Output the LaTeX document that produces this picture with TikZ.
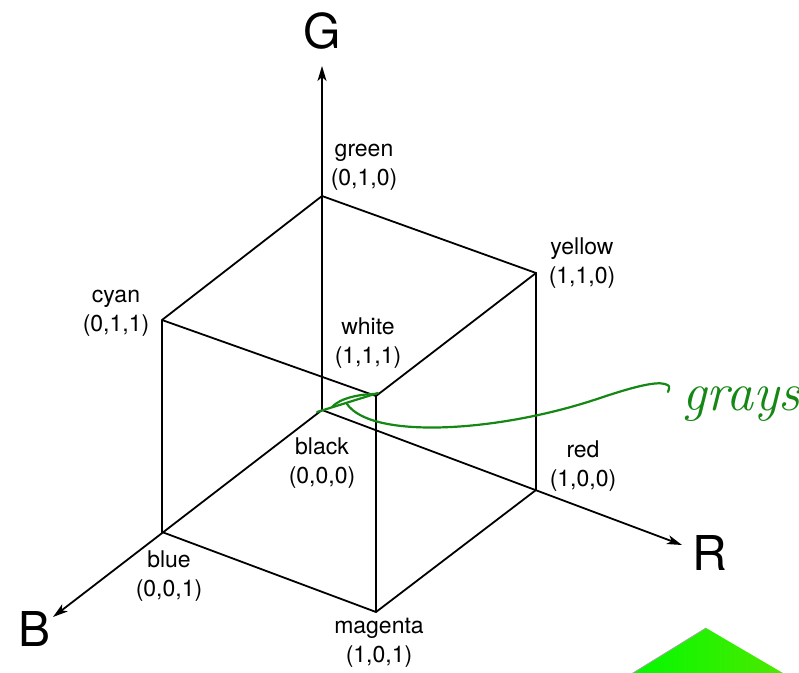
\documentclass[tikz,border=0pt]{standalone}
\usepackage{fontspec}
\setsansfont{TeX Gyre Heros}
\usetikzlibrary{arrows.meta}

\definecolor{penGreen}{RGB}{20,135,20}
\definecolor{cornerLeft}{RGB}{0,250,0}
\definecolor{cornerRight}{RGB}{80,232,0}

\tikzset{
  edge/.style={black,line width=1.8pt},
  axis/.style={edge,-{Stealth[length=15pt,width=9pt,inset=4pt]}},
  vlabel/.style={font=\sffamily\fontsize{23}{29}\selectfont,align=center,inner sep=0pt},
  axlabel/.style={font=\sffamily\fontsize{48}{48}\selectfont,inner sep=0pt},
  pen/.style={penGreen,line width=2.2pt,line cap=round,line join=round}
}

\begin{document}
\begin{tikzpicture}[x=1pt,y=-1pt]
\useasboundingbox (0,0) rectangle (799,672);

% corners of the cube
\coordinate (black) at (322,410);
\coordinate (green) at (322,196);
\coordinate (red) at (536,490);
\coordinate (blue) at (162,532);
\coordinate (yellow) at (536,273);
\coordinate (cyan) at (162,320);
\coordinate (magenta) at (376,612);
\coordinate (white) at (376,396);

% ends of the axes
\coordinate (Gend) at (322,66);
\coordinate (Rend) at (682,545);
\coordinate (Bend) at (53,617);

% green corner in the bottom right
\shade[left color=cornerLeft,right color=cornerRight]
  (628,676) -- (706,628) -- (788,676) -- cycle;
\draw[gray!70,line width=0.8pt] (628,676) -- (706,628);

\draw[edge] (green) -- (yellow) -- (red) -- (magenta) -- (blue) -- (cyan) -- cycle;
\draw[edge] (cyan) -- (white) -- (yellow);
\draw[edge] (white) -- (magenta);

\draw[axis] (black) -- (Gend);
\draw[axis] (black) -- (Rend);
\draw[axis] (black) -- (Bend);

\node[axlabel] (G) at (322,31) {G};
\node[axlabel] (R) at (710,553) {R};
\node[axlabel] (B) at (35,629) {B};

\node[vlabel] (lblGreen) at (364,167) {green\\(0,1,0)};
\node[vlabel] (lblYellow) at (582,263) {yellow\\(1,1,0)};
\node[vlabel] (lblCyan) at (116,313) {cyan\\(0,1,1)};
\node[vlabel] (lblWhite) at (368,343) {white\\(1,1,1)};
\node[vlabel] (lblBlack) at (322,463) {black\\(0,0,0)};
\node[vlabel] (lblRed) at (583,466) {red\\(1,0,0)};
\node[vlabel] (lblBlue) at (169,576) {blue\\(0,0,1)};
\node[vlabel] (lblMagenta) at (379,643) {magenta\\(1,0,1)};

% handwritten note
\coordinate (grayStart) at (347,404);
\draw[pen] ([shift={(-5,2)}]black) -- ([shift={(2,-3)}]white);
\draw[pen] ([shift={(10,-3)}]black) .. controls (340,398) and (360,394) .. ([shift={(0,-2)}]white);
\draw[pen] (grayStart) .. controls (372,440) and (500,432) .. (600,398)
  .. controls (630,388) and (655,381) .. (665,384) .. controls (670,386) .. (668,392);
\node[penGreen,font=\itshape\fontsize{54}{54}\selectfont,anchor=base west,inner sep=0pt]
  (grays) at (682,410) {grays};

\end{tikzpicture}
\end{document}
